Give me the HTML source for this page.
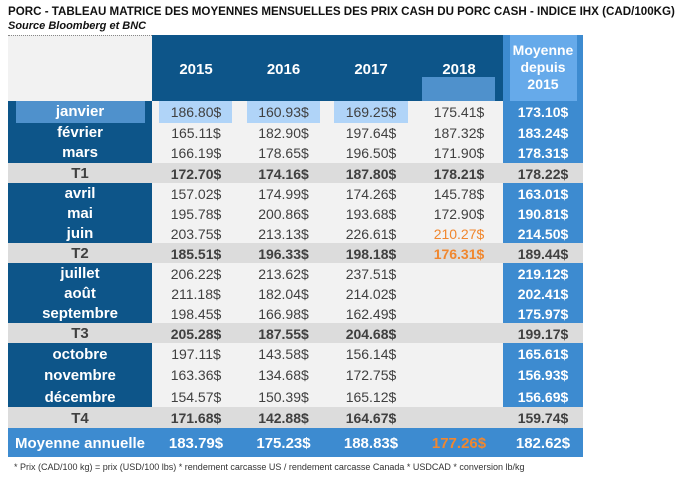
<!DOCTYPE html>
<html><head><meta charset="utf-8">
<style>
body{margin:0;width:699px;height:480px;background:#fff;position:relative;overflow:hidden;font-family:"Liberation Sans",sans-serif}
.a{position:absolute;box-sizing:border-box}
.c{position:absolute;text-align:center;font-size:14px;color:#404040;white-space:nowrap}
</style></head><body>
<div class="a" style="left:8px;top:5px;font-size:11.6px;font-weight:bold;color:#111;white-space:nowrap">PORC - TABLEAU MATRICE DES MOYENNES MENSUELLES DES PRIX CASH DU PORC CASH - INDICE IHX (CAD/100KG)</div>
<div class="a" style="left:8px;top:20px;font-size:11px;font-style:italic;font-weight:bold;color:#111">Source Bloomberg et BNC</div>
<div class="a" style="left:8px;top:35px;width:144px;height:66px;background:#f2f2f2;border-top:1px dotted #888"></div>
<div class="a" style="left:152px;top:35px;width:351px;height:66px;background:#0d5589"></div>
<div class="a" style="left:422px;top:77px;width:73px;height:24px;background:#4f91cc"></div>
<div class="a" style="left:503px;top:35px;width:80px;height:66px;background:#3d8bd0"></div>
<div class="a" style="left:510px;top:35px;width:67px;height:66px;background:#66aaea"></div>
<div class="a" style="left:503px;top:42px;width:80px;text-align:center;color:#fff;font-weight:bold;font-size:14px;line-height:17px">Moyenne<br>depuis<br>2015</div>
<div id="t"></div>
<div class="a" style="left:14px;top:462px;font-size:9px;color:#333;white-space:nowrap">* Prix (CAD/100 kg) = prix (USD/100 lbs) * rendement carcasse US / rendement carcasse Canada * USDCAD * conversion lb/kg</div>
<script>
const years=["2015","2016","2017","2018"];
const rowLabels=["janvier","février","mars","T1","avril","mai","juin","T2","juillet","août","septembre","T3","octobre","novembre","décembre","T4","Moyenne annuelle"];
const v2015=["186.80$","165.11$","166.19$","172.70$","157.02$","195.78$","203.75$","185.51$","206.22$","211.18$","198.45$","205.28$","197.11$","163.36$","154.57$","171.68$","183.79$"];
const v2016=["160.93$","182.90$","178.65$","174.16$","174.99$","200.86$","213.13$","196.33$","213.62$","182.04$","166.98$","187.55$","143.58$","134.68$","150.39$","142.88$","175.23$"];
const v2017=["169.25$","197.64$","196.50$","187.80$","174.26$","193.68$","226.61$","198.18$","237.51$","214.02$","162.49$","204.68$","156.14$","172.75$","165.12$","164.67$","188.83$"];
const v2018=["175.41$","187.32$","171.90$","178.21$","145.78$","172.90$","210.27$","176.31$","","","","","","","","","177.26$"];
const vAvg=["173.10$","183.24$","178.31$","178.22$","163.01$","190.81$","214.50$","189.44$","219.12$","202.41$","175.97$","199.17$","165.61$","156.93$","156.69$","159.74$","182.62$"];
const orange=["2018-6","2018-7","2018-16"];
const series=[v2015,v2016,v2017,v2018];
const colX=[152,240,327,415,503,583];
const t=document.getElementById('t');
function box(l,tp,w,h,bg,name){const d=document.createElement('div');d.className='a';d.style.cssText=`left:${l}px;top:${tp}px;width:${w}px;height:${h}px;background:${bg}`;


t.appendChild(d);}
function txt(l,tp,w,h,s,col,bold,name,fs){const d=document.createElement('div');d.className='c';d.style.cssText=`left:${l}px;top:${tp}px;width:${w}px;height:${h}px;line-height:${h}px;color:${col};font-weight:${bold?'bold':'normal'};font-size:${fs||14}px`;d.textContent=s;


t.appendChild(d);}
years.forEach((y,i)=>txt(colX[i],60,colX[i+1]-colX[i],20,y,'#fff',true,'header-year-'+y,15));
const tops=[];const hs=[];
const blocks=[[101,163],[183,243],[263,323],[343,407]];
const qs=[[163,183],[243,263],[323,343],[407,428]];
for(let b=0;b<4;b++){const [a,e]=blocks[b];const h=(e-a)/3;for(let k=0;k<3;k++){tops.push(a+h*k);hs.push(h);}tops.push(qs[b][0]);hs.push(qs[b][1]-qs[b][0]);}
tops.push(428);hs.push(29);
for(let b=0;b<4;b++){
 box(8,blocks[b][0],144,blocks[b][1]-blocks[b][0],'#0d5589','month-label-block');
 box(152,blocks[b][0],351,blocks[b][1]-blocks[b][0],'#f2f2f2','month-values-block');
 box(503,blocks[b][0],80,blocks[b][1]-blocks[b][0],'#3d8bd0','month-average-block');
 box(8,qs[b][0],575,qs[b][1]-qs[b][0],'#dcdcdc','quarter-row');
}
box(8,428,575,29,'#3d8bd0','annual-average-row');
box(16,101,129,22,'#4f91cc','janvier-highlight');
box(159,101,73,22,'#b0d4f8','jan-2015-highlight');
box(247,101,73,22,'#b0d4f8','jan-2016-highlight');
box(334,101,74,22,'#b0d4f8','jan-2017-highlight');
rowLabels.forEach((lab,r)=>{
 const q=(r%4===3)&&r<16, last=r===16;
 const ty=tops[r]+1, h=hs[r];
 txt(8,ty,144,h,lab,q?'#404040':'#fff',true,'row-label-'+r,15);
 series.forEach((s,i)=>{
  const key=years[i]+'-'+r;
  const col=orange.includes(key)?'#f0872f':(last?'#fff':'#404040');
  txt(colX[i],ty,colX[i+1]-colX[i],h,s[r],col,q||last,'cell-'+key,last?15:14);
 });
 txt(503,ty,80,h,vAvg[r],q?'#404040':'#fff',true,'avg-cell-'+r,last?15:14);
});
</script>
</body></html>
